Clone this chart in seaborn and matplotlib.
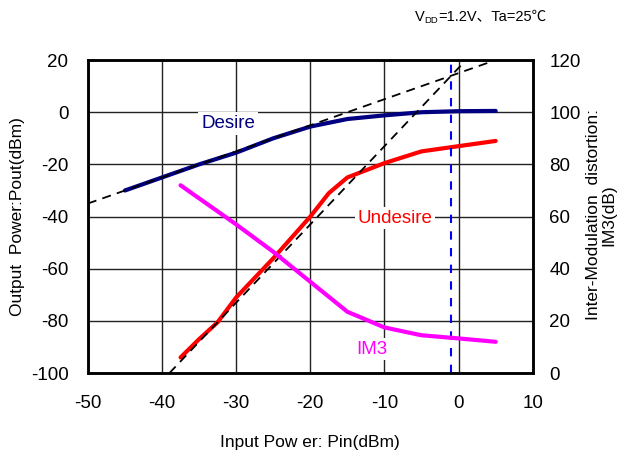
import numpy as np
import pandas as pd
import matplotlib
matplotlib.use("Agg")
import matplotlib.pyplot as plt
import seaborn as sns

# Data
desire_x = [-45, -40, -35, -30, -25, -20, -15, -10, -5, 0, 5]
desire_y = [-30, -25, -20, -15.5, -10, -5.5, -2.6, -1.2, 0, 0.4, 0.5]
undesire_x = [-37.5, -35, -32.5, -30, -25, -20, -17.5, -15, -10, -5, 0, 5]
undesire_y = [-94, -87, -80.5, -71, -56, -40, -31, -25, -19.5, -15, -13, -11]
im3_x = [-37.5, -35, -30, -25, -20, -15, -10, -5, 0, 5]
im3_y = [72, 67, 57, 46.5, 35, 23.5, 17.5, 14.5, 13.3, 12]
fund_ext_x = [-50, 5]
fund_ext_y = [-35, 20]
im3_ext_x = [-39, 1]
im3_ext_y = [-100, 20]
iip3_x = -1

x_ticks = [-50, -40, -30, -20, -10, 0, 10]
yl_ticks = [-100, -80, -60, -40, -20, 0, 20]
yr_ticks = [0, 20, 40, 60, 80, 100, 120]

sns.set_style("white")
plt.rcParams['font.family'] = ['Liberation Sans', 'Noto Sans CJK JP', 'DejaVu Sans']
plt.rcParams['axes.unicode_minus'] = False
plt.rcParams['text.color'] = 'black'
plt.rcParams['axes.labelcolor'] = 'black'
plt.rcParams['xtick.color'] = 'black'
plt.rcParams['ytick.color'] = 'black'

fig = plt.figure(figsize=(6.32, 4.55), dpi=100)
ax = fig.add_axes([0.139, 0.180, 0.704, 0.688])
ax2 = ax.twinx()

ax.set_xlim(-50, 10)
ax.set_ylim(-100, 20)
ax2.set_ylim(0, 120)
ax.set_xticks(x_ticks)
ax.set_yticks(yl_ticks)
ax2.set_yticks(yr_ticks)
ax.grid(True, color='#222222', linewidth=1.0)
ax.set_axisbelow(True)

df_d = pd.DataFrame({'x': desire_x, 'y': desire_y})
df_u = pd.DataFrame({'x': undesire_x, 'y': undesire_y})
df_i = pd.DataFrame({'x': im3_x, 'y': im3_y})

sns.lineplot(data=pd.DataFrame({'x': fund_ext_x, 'y': fund_ext_y}), x='x', y='y', ax=ax,
             color='black', lw=1.3, linestyle=(0, (5, 3.5)), zorder=4)
sns.lineplot(data=pd.DataFrame({'x': im3_ext_x, 'y': im3_ext_y}), x='x', y='y', ax=ax,
             color='black', lw=1.3, linestyle=(0, (5, 3.5)), zorder=4)
sns.lineplot(data=df_d, x='x', y='y', ax=ax, color='#000080', lw=3, zorder=3)
sns.lineplot(data=df_u, x='x', y='y', ax=ax, color='#ff0000', lw=3, zorder=3)
ax.axvline(iip3_x, color='#0000ff', lw=1.5, linestyle=(0, (4, 4)), zorder=5)
sns.lineplot(data=df_i, x='x', y='y', ax=ax2, color='#ff00ff', lw=3, zorder=3)

for a in (ax, ax2):
    for s in a.spines.values():
        s.set_linewidth(1.8)
        s.set_color('black')
    a.tick_params(length=0, labelsize=13.5, labelcolor='black')
ax.tick_params(axis='y', pad=14)
ax2.tick_params(axis='y', pad=12)
ax.tick_params(axis='x', pad=16)

ax.set_xlabel('Input Pow er: Pin(dBm)', fontsize=12.5, labelpad=16, color='black')
ax.set_ylabel('Output  Power:Pout(dBm)', fontsize=12.5, labelpad=4, color='black')
ax2.set_ylabel('')
fig.text(601 / 632, 1 - 215 / 455, 'Inter-Modulation  distortion:\nIM3(dB)', fontsize=12.5,
         rotation=90, ha='center', va='center', multialignment='center', linespacing=1.0,
         color='black')

bbox = dict(facecolor='white', edgecolor='none', pad=2)
ax.text(-31.1, -4.2, 'Desire', color='#000080', fontsize=13.5, ha='center', va='center', bbox=bbox, zorder=6)
ax.text(-8.6, -40.6, 'Undesire', color='#ff0000', fontsize=13.5, ha='center', va='center', bbox=bbox, zorder=6)
ax2.text(-11.7, 9.2, 'IM3', color='#ff00ff', fontsize=13.5, ha='center', va='center', bbox=bbox, zorder=6)

# top annotation: V_DD=1.2V、Ta=25℃
yt = 1 - 17 / 455
fig.text(415 / 632, yt, 'V', fontsize=10.5, ha='left', va='center', color='black')
fig.text(424.5 / 632, yt - 0.008, 'DD', fontsize=6.8, ha='left', va='center', color='black')
fig.text(438 / 632, yt, '=1.2V、Ta=25℃', fontsize=10.5, ha='left', va='center', color='black')

fig.savefig('out.png', dpi=100)
